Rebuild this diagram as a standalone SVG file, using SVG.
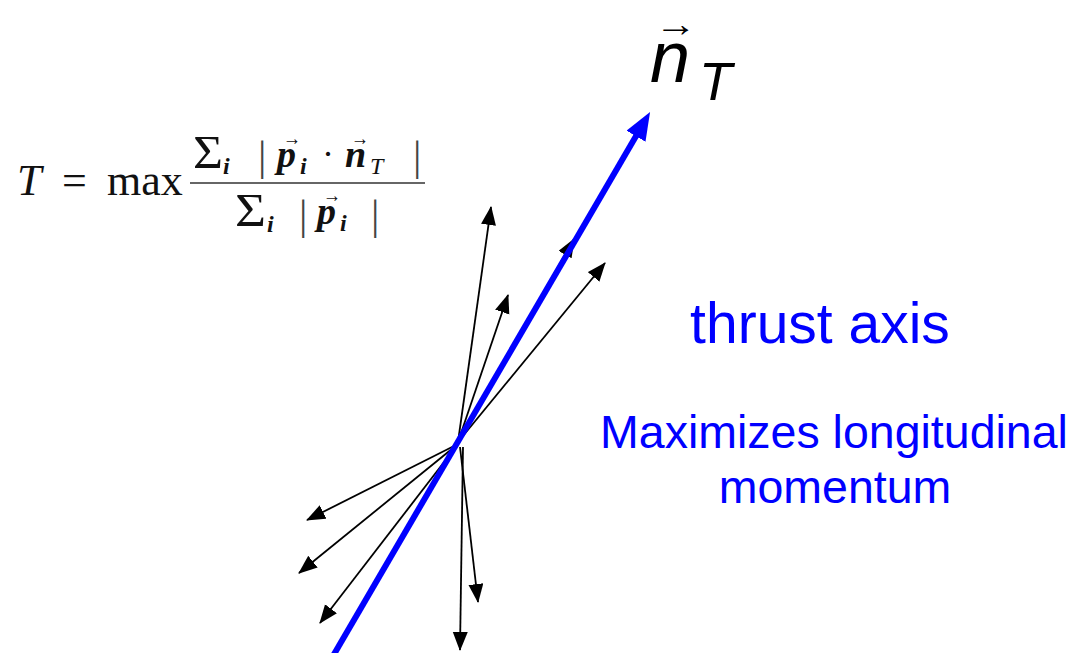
<svg xmlns="http://www.w3.org/2000/svg" width="1079" height="653" viewBox="0 0 1079 653">
<defs>
<style>
.blk{stroke:#000;stroke-width:1.8;fill:none;marker-end:url(#ah)}
.mth{font-family:"Liberation Serif",serif;fill:#111}
.bv{font-weight:bold;font-style:italic}
.it{font-style:italic}
.bar{fill:#444}
.lab{font-family:"Liberation Sans",Arial,sans-serif;fill:#0000ff;text-anchor:middle}
.nt{font-family:"Liberation Sans",Arial,sans-serif;fill:#000}
</style>
<marker id="ah" markerUnits="userSpaceOnUse" markerWidth="20" markerHeight="16" refX="18" refY="7.5" orient="auto">
<path d="M0,0 L19,7.5 L0,15 z" fill="#000"/>
</marker>
<marker id="bh" markerUnits="userSpaceOnUse" markerWidth="30" markerHeight="24" refX="8" refY="11" orient="auto">
<path d="M0,0 L28,11 L0,22 z" fill="#0000ff"/>
</marker>
</defs>
<rect width="1079" height="653" fill="#fff"/>

<g id="formula" class="mth">
<text x="17" y="195" font-size="44" class="it">T</text>
<text x="62" y="195" font-size="44">=</text>
<text x="107" y="195" font-size="44">max</text>
<line x1="190" y1="183" x2="425" y2="183" stroke="#666" stroke-width="2.2"/>
<text x="193" y="168" font-size="46" textLength="30" lengthAdjust="spacingAndGlyphs">Σ</text>
<text x="223" y="174" font-size="24" class="bv">i</text>
<text x="258" y="170" font-size="42" class="bar">|</text>
<text x="277" y="167" font-size="38" class="bv">p</text>
<text x="283" y="145" font-size="20" textLength="18" lengthAdjust="spacingAndGlyphs">→</text>
<text x="300" y="174" font-size="24" class="bv">i</text>
<text x="322" y="166" font-size="36">·</text>
<text x="345" y="167" font-size="38" class="bv">n</text>
<text x="351" y="145" font-size="20" textLength="18" lengthAdjust="spacingAndGlyphs">→</text>
<text x="370" y="174" font-size="24" class="it">T</text>
<text x="413" y="170" font-size="42" class="bar">|</text>
<text x="235" y="226" font-size="46" textLength="31" lengthAdjust="spacingAndGlyphs">Σ</text>
<text x="267" y="232" font-size="24" class="bv">i</text>
<text x="299" y="229" font-size="42" class="bar">|</text>
<text x="317" y="224" font-size="38" class="bv">p</text>
<text x="323" y="202" font-size="20" textLength="18" lengthAdjust="spacingAndGlyphs">→</text>
<text x="340" y="231" font-size="24" class="bv">i</text>
<text x="371" y="229" font-size="42" class="bar">|</text>
</g>

<g id="connectors">
<line class="blk" x1="458" y1="442" x2="491" y2="207"/>
<line class="blk" x1="458" y1="442" x2="508" y2="295"/>
<line class="blk" x1="458" y1="442" x2="574" y2="239"/>
<line class="blk" x1="458" y1="442" x2="605" y2="263"/>
<line class="blk" x1="458" y1="444" x2="307" y2="520"/>
<line class="blk" x1="458" y1="444" x2="299" y2="573"/>
<line class="blk" x1="458" y1="444" x2="320" y2="623"/>
<line class="blk" x1="460" y1="447" x2="478" y2="602"/>
<line class="blk" x1="463" y1="447" x2="460" y2="650"/>
<line id="thrust-axis" x1="333" y1="656" x2="640" y2="129.3" stroke="#0000ff" stroke-width="6" marker-end="url(#bh)"/>
</g>

<g id="nT">
<text class="nt" x="650" y="82" font-size="72" font-style="italic">n</text>
<text class="nt" x="655" y="36" font-size="36" textLength="42" lengthAdjust="spacingAndGlyphs">→</text>
<text class="nt" x="699" y="100" font-size="54" font-style="italic">T</text>
</g>

<g id="thrust-label">
<text class="lab" x="820" y="343" font-size="57">thrust axis</text>
</g>
<g id="desc-label">
<text class="lab" x="834" y="448" font-size="46.5">Maximizes longitudinal</text>
<text class="lab" x="835" y="503" font-size="46.5">momentum</text>
</g>
</svg>
